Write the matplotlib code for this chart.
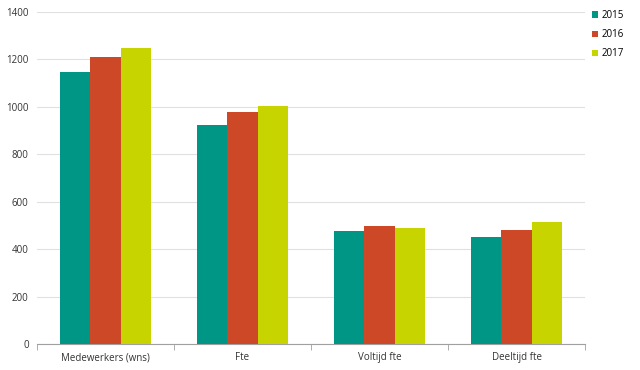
import matplotlib
matplotlib.use("Agg")
import matplotlib.pyplot as plt
import numpy as np

categories = ["Medewerkers (wns)", "Fte", "Voltijd fte", "Deeltijd fte"]
years = ["2015", "2016", "2017"]
v2015 = [1147, 924, 477, 451]
v2016 = [1210, 978, 498, 481]
v2017 = [1248, 1004, 489, 515]
colors = ["#009686", "#CC4826", "#C8D400"]

plt.rcParams['font.family'] = ['Open Sans', 'DejaVu Sans']
fig = plt.figure(figsize=(6.4, 3.7), dpi=100)
ax = fig.add_axes([37/640, 26/370, 548/640, 332/370])

x = np.arange(len(categories))
w = 0.222
for i, (vals, yr, c) in enumerate(zip([v2015, v2016, v2017], years, colors)):
    ax.bar(x + (i - 1) * w, vals, width=w, color=c, label=yr, zorder=3)

ax.set_xlim(-0.5, len(categories) - 0.5)
ax.set_ylim(0, 1400)
ax.set_yticks(range(0, 1401, 200))
ax.set_xticks(x)
ax.set_xticklabels(categories, fontsize=7)
ax.set_xticks(np.arange(-0.5, len(categories), 1), minor=True)
ax.tick_params(axis='x', which='major', length=0, pad=6, colors='#333333')
ax.tick_params(axis='x', which='minor', length=4, color='#A0A0A0')
ax.tick_params(axis='y', length=0, labelsize=7, colors='#333333', pad=6)
ax.yaxis.grid(True, color='#E0E0E0', linewidth=0.8, zorder=0)
for s in ['top', 'right', 'left']:
    ax.spines[s].set_visible(False)
ax.spines['bottom'].set_color('#A0A0A0')

leg = fig.legend(loc='upper left', bbox_to_anchor=(590/640, 1 - 8/370),
                 bbox_transform=fig.transFigure, frameon=False, fontsize=7,
                 handlelength=0.6, handleheight=0.6, handletextpad=0.4,
                 labelspacing=0.85, borderaxespad=0, borderpad=0.2)

fig.savefig("out.png", dpi=100)
